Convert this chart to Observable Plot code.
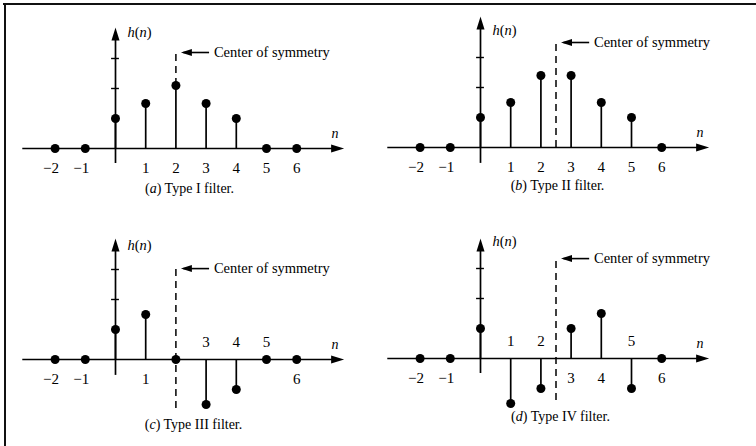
<!DOCTYPE html>
<html><head><meta charset="utf-8">
<script src="https://cdn.jsdelivr.net/npm/d3@7"></script>
<script src="https://cdn.jsdelivr.net/npm/@observablehq/plot@0.6"></script>
<style>
body{margin:0;background:#fff;}
#wrap{position:relative;width:756px;height:446px;display:flex;flex-wrap:wrap;font-family:"Liberation Serif","Times New Roman",serif;}
#wrap svg{display:block;}
.hline{position:absolute;left:3px;top:3px;width:753px;height:2px;background:#111;}
.vline{position:absolute;left:4px;top:3px;width:2px;height:443px;background:#111;}
</style></head><body><div id="wrap"></div>
<script>
// ---- data ----
const n = [-2, -1, 0, 1, 2, 3, 4, 5, 6];
const hTypeI   = [0, 0, 1, 1.5, 2.1, 1.5, 1, 0, 0];
const hTypeII  = [0, 0, 1, 1.5, 2.4, 2.4, 1.5, 1, 0];
const hTypeIII = [0, 0, 1, 1.5, 0, -1.5, -1, 0, 0];
const hTypeIV  = [0, 0, 1, -1.5, -1, 1, 1.5, -1, 0];
const centerOfSymmetry = [2, 2.5, 2, 2.5];
const captions = ["(a) Type I filter.", "(b) Type II filter.", "(c) Type III filter.", "(d) Type IV filter."];
const labelsBelow = [[-2, -1, 1, 2, 3, 4, 5, 6], [-2, -1, 1, 2, 3, 4, 5, 6], [-2, -1, 1, 6], [-2, -1, 3, 4, 6]];
const labelsAbove = [[], [], [3, 4, 5], [1, 2, 5]];
const yTickValues = [2, 3];
const yLabel = "h(n)";
const xLabel = "n";
const annotation = "Center of symmetry";

// ---- layout ----
const series = [hTypeI, hTypeII, hTypeIII, hTypeIV];
const W = 378, H = 223, ux = 30.2, uy = 30;
const zeroX = [115, 102, 115, 102];
const axisY = [148, 147, 136, 135];
const yAxisTop = [4.03, 4.37, 4.03, 4.0];
const yAxisBottom = [-0.5, -0.53, -0.53, -0.5];
const dashTop = [3.27, 3.57, 3.03, 3.4];
const dashBottom = [2.1, 0, -1.63, -1.4];
const annY = [3.2, 3.5, 3.03, 3.33];
const hnY = [3.87, 3.9, 3.8, 3.9];
const capPos = [[189, 183], [179, 180], [193, 196], [182, 188]];
const xAxisStart = -3.07, xAxisEnd = 7.57;

const arrowRight = {draw(c){c.moveTo(0,0);c.lineTo(-13,-4);c.lineTo(-13,4);c.closePath();}};
const arrowUp = {draw(c){c.moveTo(0,0);c.lineTo(-4,13);c.lineTo(4,13);c.closePath();}};
const arrowLeft = {draw(c){c.moveTo(0,0);c.lineTo(11,-3.5);c.lineTo(11,3.5);c.closePath();}};
const fmt = d => d < 0 ? "\u2212" + Math.abs(d) : String(d);

function italicize(svg) {
  const NS = "http://www.w3.org/2000/svg";
  svg.querySelectorAll("text").forEach(t => {
    const s = t.textContent;
    let parts = null;
    if (s === yLabel) parts = [["h", 1], ["(", 0], ["n", 1], [")", 0]];
    const m = s.match(/^\((\w)\)(.*)$/);
    if (m) parts = [["(", 0], [m[1], 1], [")" + m[2], 0]];
    if (!parts) return;
    t.textContent = "";
    for (const [p, it] of parts) {
      const ts = document.createElementNS(NS, "tspan");
      ts.textContent = p;
      if (it) ts.setAttribute("font-style", "italic");
      t.appendChild(ts);
    }
  });
}

const wrap = document.getElementById("wrap");
series.forEach((h, i) => {
  const x0 = zeroX[i], y0 = axisY[i];
  const data = n.map((d, j) => ({n: d, h: h[j]}));
  const c = centerOfSymmetry[i];
  const below = labelsBelow[i].map(d => ({n: d}));
  const above = labelsAbove[i].map(d => ({n: d}));
  const svg = Plot.plot({
    width: W, height: H,
    margin: 0,
    x: {domain: [-x0 / ux, (W - x0) / ux], axis: null},
    y: {domain: [-(H - y0) / uy, y0 / uy], axis: null},
    style: {background: "transparent", fontFamily: "'Liberation Serif','Times New Roman',serif", color: "black"},
    marks: [
      Plot.ruleY([0], {x1: xAxisStart, x2: xAxisEnd - 0.3, stroke: "black", strokeWidth: 1.7}),
      Plot.dot([xAxisEnd], {x: d => d, y: 0, symbol: arrowRight, fill: "black", stroke: null}),
      Plot.ruleX([0], {y1: yAxisBottom[i], y2: yAxisTop[i] - 0.3, stroke: "black", strokeWidth: 1.7}),
      Plot.dot([yAxisTop[i]], {x: 0, y: d => d, symbol: arrowUp, fill: "black", stroke: null}),
      Plot.ruleY(yTickValues, {x1: -0.13, x2: 0.13, stroke: "black", strokeWidth: 1.4}),
      Plot.ruleX([c], {y1: dashBottom[i], y2: dashTop[i], stroke: "black", strokeWidth: 1.5, strokeDasharray: "7,5"}),
      Plot.ruleX(data.filter(d => d.h !== 0), {x: "n", y1: 0, y2: "h", stroke: "black", strokeWidth: 1.7}),
      Plot.dot(data, {x: "n", y: "h", r: 4.5, fill: "black", stroke: null}),
      Plot.ruleY([annY[i]], {x1: c, x2: c + 0.85, dx: 8, stroke: "black", strokeWidth: 1.6}),
      Plot.dot([c], {x: d => d, y: annY[i], dx: 5, symbol: arrowLeft, fill: "black", stroke: null}),
      Plot.text([annotation], {x: c, y: annY[i], dx: 38, text: d => d, textAnchor: "start", fontSize: 14.5, fill: "black"}),
      Plot.text([yLabel], {x: 0, y: hnY[i], dx: 12, text: d => d, textAnchor: "start", fontSize: 14.5, fill: "black"}),
      Plot.text([xLabel], {x: 7.27, y: 0.5, text: d => d, fontStyle: "italic", fontSize: 14, fill: "black"}),
      Plot.text(below, {x: "n", y: 0, dy: 20, text: d => fmt(d.n), fontSize: 15, fill: "black"}),
      Plot.text(above, {x: "n", y: 0, dy: -17, text: d => fmt(d.n), fontSize: 15, fill: "black"}),
      Plot.text([captions[i]], {frameAnchor: "top-left", dx: capPos[i][0], dy: capPos[i][1], text: d => d, textAnchor: "middle", fontSize: 14, fill: "black"})
    ]
  });
  // shift negative labels so the digit sits under the sample
  svg.querySelectorAll("text").forEach(t => { if (t.textContent.startsWith("\u2212")) t.setAttribute("dx", "-4"); });
  italicize(svg);
  wrap.appendChild(svg);
});
const hl = document.createElement("div"); hl.className = "hline"; wrap.appendChild(hl);
const vl = document.createElement("div"); vl.className = "vline"; wrap.appendChild(vl);
</script></body></html>
